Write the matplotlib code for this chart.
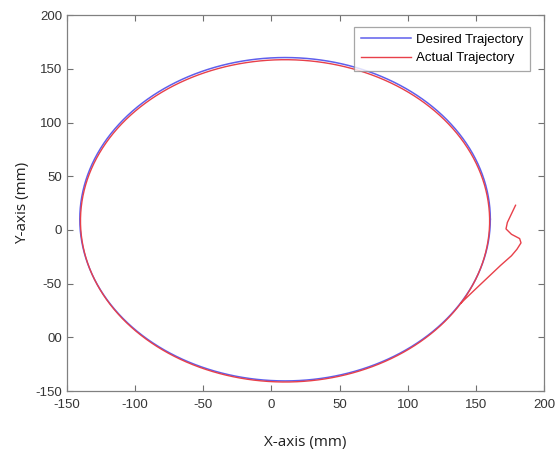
import numpy as np
import matplotlib
matplotlib.use("Agg")
import matplotlib.pyplot as plt

plt.rcParams["axes.unicode_minus"] = False

# --- Trajectory data (mm) ---
desired_center = (10.0, 10.0)
desired_radius = 150.5

actual_center = (10.0, 8.5)
actual_radius = 150.0

# transient of the actual trajectory before it settles onto the circle
transient_x = [179, 176, 173, 172, 176, 182, 183, 180, 176, 168, 158, 148, 139]
transient_y = [23, 15, 7, 1, -4, -8, -12, -18, -24, -33, -45, -57, -68]

x_ticks = [-150, -100, -50, 0, 50, 100, 150, 200]
y_ticks = [-150, -100, -50, 0, 50, 100, 150, 200]
y_tick_labels = ["-150", "00", "-50", "0", "50", "100", "150", "200"]

# --- Build the curves ---
theta = np.linspace(0, 2 * np.pi, 721)
desired_x = desired_center[0] + desired_radius * np.cos(theta)
desired_y = desired_center[1] + desired_radius * np.sin(theta)

# clockwise loop starting where the transient joins the circle
start = np.arctan2(transient_y[-1] - actual_center[1], transient_x[-1] - actual_center[0])
phi = np.linspace(start, start - 2 * np.pi, 720)
loop_x = actual_center[0] + actual_radius * np.cos(phi)
loop_y = actual_center[1] + actual_radius * np.sin(phi)
actual_x = np.concatenate([transient_x, loop_x])
actual_y = np.concatenate([transient_y, loop_y])

fig = plt.figure(figsize=(5.57, 4.58), dpi=100)
ax = fig.add_axes([0.120, 0.146, 0.857, 0.821])

ax.plot(desired_x, desired_y, color="#5f5fec", linewidth=1.1, label="Desired Trajectory")
ax.plot(actual_x, actual_y, color="#e8404a", linewidth=1.0, label="Actual Trajectory")

ax.set_xlim(-150, 200)
ax.set_ylim(-150, 200)
ax.set_xticks(x_ticks)
ax.set_yticks(y_ticks)
ax.set_yticklabels(y_tick_labels)
ax.tick_params(direction="in", length=4, width=0.8, colors="#707070",
               labelcolor="#353535", labelsize=9.5, top=True, right=True)
ax.tick_params(axis="x", pad=6)
for lab in ax.get_xticklabels() + ax.get_yticklabels():
    lab.set_family("Liberation Sans")
for s in ax.spines.values():
    s.set_color("#808080")
    s.set_linewidth(0.9)

ax.set_xlabel("X-axis (mm)", fontsize=11, color="#202020", family="Open Sans", labelpad=17)
ax.set_ylabel("Y-axis (mm)", fontsize=11, color="#202020", family="Open Sans", labelpad=4)

leg = ax.legend(loc="upper right", handlelength=3.8, fancybox=False,
                borderpad=0.5, labelspacing=0.45, handletextpad=0.4,
                borderaxespad=0.0,
                prop={"family": "Liberation Sans", "size": 9.5},
                bbox_to_anchor=(0.971, 0.968))
leg.get_frame().set_edgecolor("#909090")
leg.get_frame().set_linewidth(0.9)

fig.savefig("out.png", dpi=100)
